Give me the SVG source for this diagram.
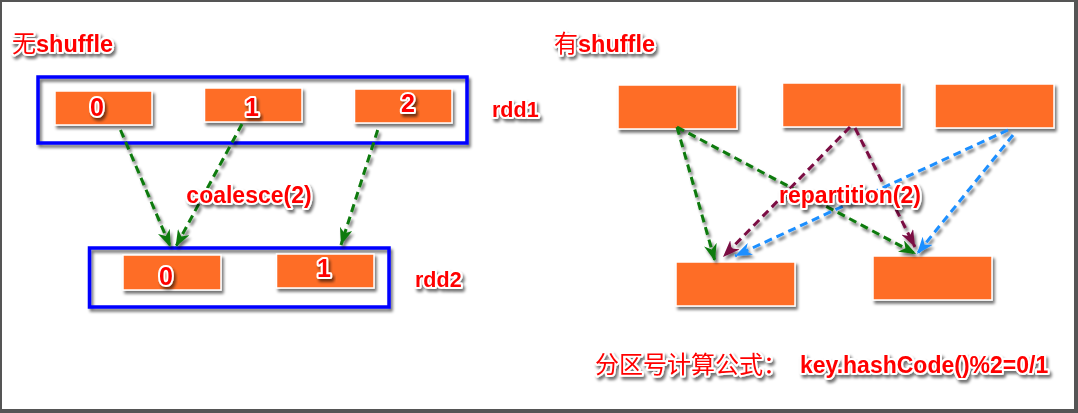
<svg xmlns="http://www.w3.org/2000/svg" width="1078" height="413" viewBox="0 0 1078 413">
<defs>
<filter id="sh" x="-20%" y="-20%" width="150%" height="160%">
<feGaussianBlur in="SourceAlpha" stdDeviation="1.6"/>
<feOffset dx="2" dy="2.5" result="o"/>
<feComponentTransfer><feFuncA type="linear" slope="0.55"/></feComponentTransfer>
<feMerge><feMergeNode/><feMergeNode in="SourceGraphic"/></feMerge>
</filter>
<marker id="mg" viewBox="0 0 17 13" refX="17" refY="6.5" markerWidth="17" markerHeight="13" markerUnits="userSpaceOnUse" orient="auto"><path d="M0,0 L17,6.5 L0,13 L5,6.5 Z" fill="#0b7a0b"/></marker>
<marker id="mm" viewBox="0 0 17 13" refX="17" refY="6.5" markerWidth="17" markerHeight="13" markerUnits="userSpaceOnUse" orient="auto"><path d="M0,0 L17,6.5 L0,13 L5,6.5 Z" fill="#7a0a43"/></marker>
<marker id="mb" viewBox="0 0 17 13" refX="17" refY="6.5" markerWidth="17" markerHeight="13" markerUnits="userSpaceOnUse" orient="auto"><path d="M0,0 L17,6.5 L0,13 L5,6.5 Z" fill="#1e8fff"/></marker>
</defs>
<style>
.box{fill:#fe6d28;stroke:#ffffff;stroke-width:1.5;filter:url(#sh)}
.grp{fill:none;stroke:#0000ff;stroke-width:3.5;filter:url(#sh)}
.t{font-family:"Liberation Sans",Arial,"Noto Sans CJK SC",sans-serif;font-weight:bold;fill:#ff0000;stroke:#ffffff;stroke-width:4;stroke-linejoin:round;paint-order:stroke;filter:url(#sh)}
.cn{font-family:"Noto Sans CJK SC",sans-serif;font-weight:normal}
.c{fill:none;stroke-width:3;stroke-dasharray:8 5}
.g{stroke:#0b7a0b;marker-end:url(#mg)}
.m{stroke:#7a0a43;marker-end:url(#mm)}
.b{stroke:#1e8fff;marker-end:url(#mb)}
</style>
<rect x="0" y="0" width="1078" height="413" fill="#555555"/>
<rect x="2" y="2" width="1072" height="407" fill="#ffffff"/>

<g id="title-left"><text class="t" x="12" y="52" font-size="23.5"><tspan class="cn" font-size="24">无</tspan>shuffle</text></g>
<g id="title-right"><text class="t" x="554" y="52" font-size="23.5"><tspan class="cn" font-size="24">有</tspan>shuffle</text></g>

<g id="rdd1"><rect class="grp" x="38" y="77" width="429" height="66"/><text class="t" x="492" y="117" font-size="21.5">rdd1</text></g>
<g id="rdd2"><rect class="grp" x="89.5" y="248" width="299.5" height="59"/><text class="t" x="415" y="287" font-size="21.5">rdd2</text></g>

<g id="p0"><rect class="box" x="55" y="91" width="97" height="34"/><text class="t" x="97" y="116" font-size="25" text-anchor="middle">0</text></g>
<g id="p1"><rect class="box" x="204.5" y="88" width="97.5" height="34"/><text class="t" x="252" y="116" font-size="25" text-anchor="middle">1</text></g>
<g id="p2"><rect class="box" x="354.5" y="89" width="97.5" height="34"/><text class="t" x="408" y="112" font-size="25" text-anchor="middle">2</text></g>
<g id="q0"><rect class="box" x="123" y="255" width="98" height="35"/><text class="t" x="166" y="285" font-size="25" text-anchor="middle">0</text></g>
<g id="q1"><rect class="box" x="276.5" y="254" width="97.5" height="34"/><text class="t" x="324" y="277" font-size="25" text-anchor="middle">1</text></g>

<g id="sA"><rect class="box" x="618" y="85" width="119" height="44"/></g>
<g id="sB"><rect class="box" x="782.5" y="83" width="119" height="44"/></g>
<g id="sC"><rect class="box" x="935" y="84" width="119" height="44"/></g>
<g id="dD"><rect class="box" x="676" y="262" width="119" height="44"/></g>
<g id="dE"><rect class="box" x="873" y="256" width="119" height="44"/></g>

<g id="connectors" filter="url(#sh)">
<path class="c g" d="M120.5,130 L170.5,247"/>
<path class="c g" d="M242,124 L175.6,247"/>
<path class="c g" d="M377.7,130 L341,245"/>
<path class="c g" d="M677,127 L715,261"/>
<path class="c g" d="M677,127 L916,254"/>
<path class="c m" d="M850,127 L723,257"/>
<path class="c m" d="M855,128 L915,247"/>
<path class="c b" d="M1008,130 L735,256"/>
<path class="c b" d="M1013,135 L917,254"/>
</g>

<g id="label-coalesce"><text class="t" x="249" y="203" font-size="23" text-anchor="middle">coalesce(2)</text></g>
<g id="label-repartition"><text class="t" x="850" y="203" font-size="23" text-anchor="middle">repartition(2)</text></g>
<g id="formula"><text class="t" x="595" y="373" font-size="23"><tspan class="cn" font-size="24">分区号计算公式：</tspan><tspan x="800">key.hashCode()%2=0/1</tspan></text></g>
</svg>
